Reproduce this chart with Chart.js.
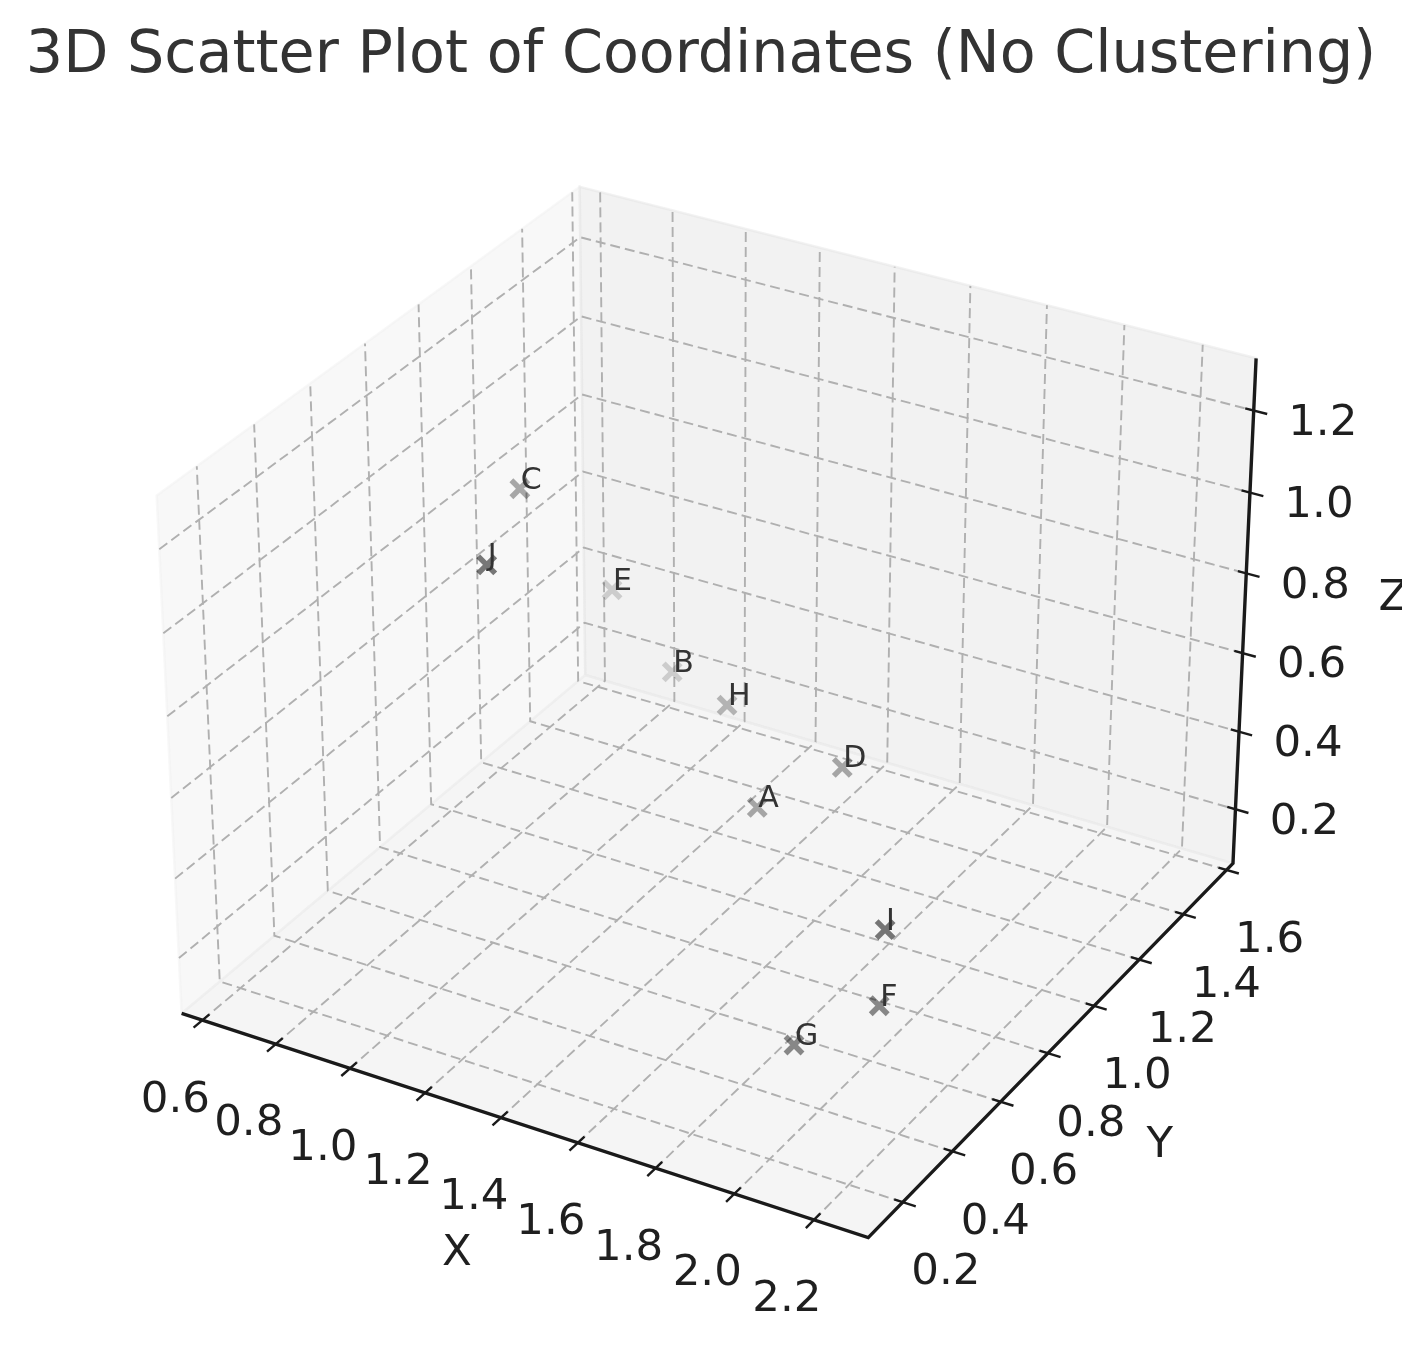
<!DOCTYPE html>
<html lang="en">
<head>
    <meta charset="UTF-8">
    <title>3D Scatter Plot of Coordinates (No Clustering)</title>
    <script src="https://cdn.jsdelivr.net/npm/chart.js"></script>
    <style>
        body { margin: 0; background: #fff; }
        canvas { display: block; }
    </style>
</head>
<body>
    <canvas id="scatter3d" width="1402" height="1350"></canvas>

    <script>
        // values
        const pointNames = ["A", "B", "C", "D", "E", "F", "G", "H", "I", "J"];
        const xValues = [1.542, 1.110, 0.888, 1.688, 0.939, 2.019, 1.875, 1.352, 2.060, 1.091];
        const yValues = [0.852, 1.160, 0.890, 0.972, 1.171, 0.606, 0.489, 1.019, 0.559, 0.479];
        const zValues = [0.417, 0.473, 1.014, 0.492, 0.631, 0.200, 0.128, 0.530, 0.430, 1.091];

        const xTicks = [0.6, 0.8, 1.0, 1.2, 1.4, 1.6, 1.8, 2.0, 2.2];
        const yTicks = [0.2, 0.4, 0.6, 0.8, 1.0, 1.2, 1.4, 1.6];
        const zTicks = [0.2, 0.4, 0.6, 0.8, 1.0, 1.2];

        const xLimits = [0.543, 2.335];
        const yLimits = [0.063, 1.630];
        const zLimits = [0.059, 1.326];

        // camera: elevation 30, azimuth -60, box aspect 4:4:3
        const boxHalf = [0.595, 0.595, 0.4465];
        const camRight = [0.866, 0.5, 0];
        const camUp = [-0.25, 0.433, 0.866];
        const camBack = [0.433, -0.75, 0.5];
        const camDist = 10;

        // hidden scales: projected plane units per canvas pixel
        const planeScale = 6610;
        const originX = 717;
        const originY = 687;
        const titleBox = 95;

        function boxCoords(x, y, z) {
            return [
                boxHalf[0] * (2 * (x - xLimits[0]) / (xLimits[1] - xLimits[0]) - 1),
                boxHalf[1] * (2 * (y - yLimits[0]) / (yLimits[1] - yLimits[0]) - 1),
                boxHalf[2] * (2 * (z - zLimits[0]) / (zLimits[1] - zLimits[0]) - 1)
            ];
        }

        function dot(a, b) {
            return a[0] * b[0] + a[1] * b[1] + a[2] * b[2];
        }

        function depth(x, y, z) {
            return dot(boxCoords(x, y, z), camBack);
        }

        function project(x, y, z) {
            let d = boxCoords(x, y, z);
            let f = camDist - dot(d, camBack);
            return { x: dot(d, camRight) / f, y: dot(d, camUp) / f };
        }

        function lineSet(points, color, width, dash) {
            return {
                data: points.map(p => project(p[0], p[1], p[2])),
                showLine: true,
                fill: false,
                pointRadius: 0,
                borderColor: color,
                borderWidth: width,
                borderDash: dash || [],
                borderCapStyle: "butt",
                borderJoinStyle: "miter"
            };
        }

        function paneSet(points, color) {
            let set = lineSet(points.concat([points[0]]), color, 2.5);
            set.fill = "shape";
            set.backgroundColor = color;
            return set;
        }

        const [x0, x1] = xLimits;
        const [y0, y1] = yLimits;
        const [z0, z1] = zLimits;
        const xSpan = x1 - x0;
        const ySpan = y1 - y0;

        let layers = [];

        // panes
        layers.push(paneSet([[x0, y0, z0], [x0, y1, z0], [x0, y1, z1], [x0, y0, z1]], "rgba(242,242,242,0.5)"));
        layers.push(paneSet([[x0, y1, z0], [x1, y1, z0], [x1, y1, z1], [x0, y1, z1]], "rgba(230,230,230,0.5)"));
        layers.push(paneSet([[x0, y0, z0], [x1, y0, z0], [x1, y1, z0], [x0, y1, z0]], "rgba(236,236,236,0.5)"));

        // grid
        const gridColor = "#b0b0b0";
        const gridDash = [10, 5];
        xTicks.forEach(v => layers.push(lineSet([[v, y0, z0], [v, y1, z0], [v, y1, z1]], gridColor, 1.9, gridDash)));
        yTicks.forEach(v => layers.push(lineSet([[x1, v, z0], [x0, v, z0], [x0, v, z1]], gridColor, 1.9, gridDash)));
        zTicks.forEach(v => layers.push(lineSet([[x0, y0, v], [x0, y1, v], [x1, y1, v]], gridColor, 1.9, gridDash)));

        // axis lines and ticks
        const axisColor = "#1a1a1a";
        layers.push(lineSet([[x0, y0, z0], [x1, y0, z0], [x1, y1, z0], [x1, y1, z1]], axisColor, 3.4));
        xTicks.forEach(v => layers.push(lineSet([[v, y0 + 0.016 * ySpan, z0], [v, y0 - 0.02 * ySpan, z0]], axisColor, 2.4)));
        yTicks.forEach(v => layers.push(lineSet([[x1 - 0.012 * xSpan, v, z0], [x1 + 0.018 * xSpan, v, z0]], axisColor, 2.4)));
        zTicks.forEach(v => layers.push(lineSet([[x1 - 0.012 * xSpan, y1, v], [x1 + 0.019 * xSpan, y1, v]], axisColor, 2.4)));

        // scatter points, nearer ones darker like matplotlib depthshade
        const depths = pointNames.map((n, i) => depth(xValues[i], yValues[i], zValues[i]));
        const nearest = Math.max(...depths);
        const farthest = Math.min(...depths);
        const pointColors = depths.map(d => {
            let alpha = 0.52 * (1 - 0.7 * (nearest - d) / (nearest - farthest));
            return `rgba(0,0,0,${alpha.toFixed(3)})`;
        });

        layers.push({
            data: pointNames.map((n, i) => project(xValues[i], yValues[i], zValues[i])),
            showLine: false,
            pointStyle: "crossRot",
            pointRadius: 12,
            pointBorderWidth: 5.5,
            pointBorderColor: pointColors,
            pointBackgroundColor: pointColors
        });

        // chart.js draws lower order last, so keep the layer order bottom to top
        layers.forEach((set, i) => { set.order = layers.length - i; });

        const axisTextPlugin = {
            id: "axisText",
            afterDatasetsDraw(chart) {
                let ctx = chart.ctx;
                let sx = chart.scales.x;
                let sy = chart.scales.y;

                function put(text, p, dx, dy) {
                    ctx.fillText(text, sx.getPixelForValue(p.x) + dx, sy.getPixelForValue(p.y) + dy);
                }

                ctx.save();

                // point names
                ctx.font = '30px "DejaVu Sans"';
                ctx.fillStyle = "#333333";
                ctx.textAlign = "left";
                ctx.textBaseline = "alphabetic";
                pointNames.forEach((n, i) => put(n, project(xValues[i], yValues[i], zValues[i]), 1, 0));

                // tick labels
                ctx.font = '43.5px "DejaVu Sans"';
                ctx.fillStyle = "#1f1f1f";
                ctx.textAlign = "center";
                ctx.textBaseline = "middle";
                xTicks.forEach(v => put(v.toFixed(1), project(v, y0, z0), -27, 80));
                yTicks.forEach(v => put(v.toFixed(1), project(x1, v, z0), 43, 71));
                zTicks.forEach(v => put(v.toFixed(1), project(x1, y1, v), 69, 13));

                // axis titles
                put("X", project((x0 + x1) / 2, y0, z0), -59, 131);
                put("Y", project(x1, (y0 + y1) / 2, z0), 101, 104);
                put("Z", project(x1, y1, (z0 + z1) / 2), 149, -18);

                ctx.restore();
            }
        };

        new Chart(document.getElementById("scatter3d"), {
            type: "scatter",
            data: { datasets: layers },
            plugins: [axisTextPlugin],
            options: {
                responsive: false,
                animation: false,
                layout: { padding: 0, autoPadding: false },
                plugins: {
                    legend: { display: false },
                    tooltip: { enabled: false },
                    title: {
                        display: true,
                        text: "3D Scatter Plot of Coordinates (No Clustering)",
                        color: "#333333",
                        font: { family: "DejaVu Sans", size: 58.7, weight: "normal", lineHeight: 1.2 },
                        padding: { top: 22, bottom: 2.56 }
                    }
                },
                scales: {
                    x: {
                        type: "linear",
                        display: false,
                        min: -originX / planeScale,
                        max: (1402 - originX) / planeScale
                    },
                    y: {
                        type: "linear",
                        display: false,
                        min: (originY - 1350) / planeScale,
                        max: (originY - titleBox) / planeScale
                    }
                }
            }
        });
    </script>
</body>
</html>
